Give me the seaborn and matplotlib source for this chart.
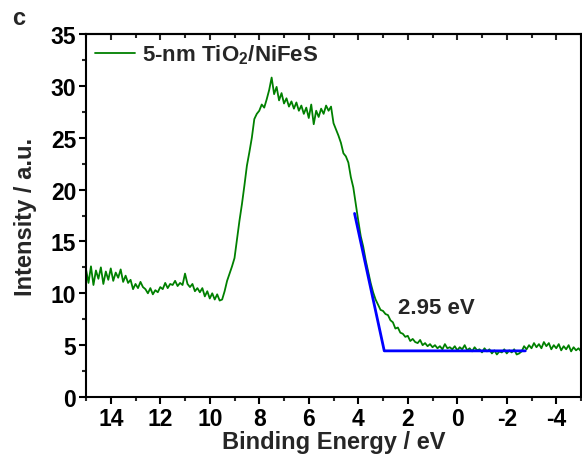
import numpy as np
import pandas as pd
import matplotlib
matplotlib.use("Agg")
import matplotlib.pyplot as plt
from matplotlib.ticker import MultipleLocator
import seaborn as sns

# Binding energy grid (eV) and measured intensity (a.u.)
energy = [
    15.0, 14.9, 14.8, 14.7, 14.6, 14.5, 14.4, 14.3, 14.2, 14.1,
    14.0, 13.9, 13.8, 13.7, 13.6, 13.5, 13.4, 13.3, 13.2, 13.1,
    13.0, 12.9, 12.8, 12.7, 12.6, 12.5, 12.4, 12.3, 12.2, 12.1,
    12.0, 11.9, 11.8, 11.7, 11.6, 11.5, 11.4, 11.3, 11.2, 11.1,
    11.0, 10.9, 10.8, 10.7, 10.6, 10.5, 10.4, 10.3, 10.2, 10.1,
    10.0, 9.9, 9.8, 9.7, 9.6, 9.5, 9.4, 9.3, 9.2, 9.1,
    9.0, 8.9, 8.8, 8.7, 8.6, 8.5, 8.4, 8.3, 8.2, 8.1,
    8.0, 7.9, 7.8, 7.7, 7.6, 7.5, 7.4, 7.3, 7.2, 7.1,
    7.0, 6.9, 6.8, 6.7, 6.6, 6.5, 6.4, 6.3, 6.2, 6.1,
    6.0, 5.9, 5.8, 5.7, 5.6, 5.5, 5.4, 5.3, 5.2, 5.1,
    5.0, 4.9, 4.8, 4.7, 4.6, 4.5, 4.4, 4.3, 4.2, 4.1,
    4.0, 3.9, 3.8, 3.7, 3.6, 3.5, 3.4, 3.3, 3.2, 3.1,
    3.0, 2.9, 2.8, 2.7, 2.6, 2.5, 2.4, 2.3, 2.2, 2.1,
    2.0, 1.9, 1.8, 1.7, 1.6, 1.5, 1.4, 1.3, 1.2, 1.1,
    1.0, 0.9, 0.8, 0.7, 0.6, 0.5, 0.4, 0.3, 0.2, 0.1,
    0.0, -0.1, -0.2, -0.3, -0.4, -0.5, -0.6, -0.7, -0.8, -0.9,
    -1.0, -1.1, -1.2, -1.3, -1.4, -1.5, -1.6, -1.7, -1.8, -1.9,
    -2.0, -2.1, -2.2, -2.3, -2.4, -2.5, -2.6, -2.7, -2.8, -2.9,
    -3.0, -3.1, -3.2, -3.3, -3.4, -3.5, -3.6, -3.7, -3.8, -3.9,
    -4.0, -4.1, -4.2, -4.3, -4.4, -4.5, -4.6, -4.7, -4.8, -4.9,
    -5.0,
]
intensity = [
    12.3, 11.0, 12.6, 10.8, 12.2, 11.4, 12.5, 10.9, 12.1, 11.3,
    12.4, 11.2, 12.0, 11.5, 12.3, 11.1, 11.7, 11.0, 11.3, 10.4,
    10.9, 10.5, 11.1, 10.6, 10.4, 10.0, 10.5, 9.9, 10.3, 10.1,
    10.6, 10.4, 11.0, 10.5, 10.9, 10.8, 11.2, 10.7, 11.0, 10.8,
    11.9, 10.9, 10.6, 10.9, 10.2, 10.5, 10.1, 10.5, 9.7, 10.2,
    9.5, 10.0, 9.4, 9.9, 9.3, 9.4, 10.2, 11.2, 11.9, 12.6,
    13.4, 15.2, 17.0, 18.6, 20.4, 22.3, 23.6, 25.0, 26.8, 27.3,
    27.6, 28.2, 27.9, 28.7, 29.6, 30.8, 29.2, 29.9, 28.6, 29.3,
    28.3, 28.8, 28.0, 28.5, 27.8, 28.4, 27.6, 28.1, 27.3, 27.9,
    26.9, 28.2, 26.3, 27.6, 27.0, 27.8, 27.3, 28.1, 27.6, 28.0,
    26.4, 25.8, 25.2, 24.5, 23.5, 23.2, 22.6, 21.2, 20.2, 18.6,
    17.0, 15.5, 14.5, 13.2, 12.1, 11.0, 10.1, 9.4, 8.9, 8.4,
    8.3, 8.0, 7.9, 7.4, 7.2, 6.6, 6.7, 6.2, 6.1, 5.8,
    5.9, 5.4, 5.6, 5.3, 5.2, 5.5, 5.0, 5.2, 4.9, 5.1,
    4.8, 5.0, 4.7, 4.9, 4.6, 5.1, 4.7, 4.8, 4.6, 4.9,
    4.5, 4.8, 4.6, 5.0, 4.5, 4.7, 4.4, 4.8, 4.5, 4.6,
    4.3, 4.7, 4.4, 4.6, 4.2, 4.5, 4.1, 4.4, 4.3, 4.6,
    4.2, 4.5, 4.3, 4.6, 4.1, 4.2, 4.4, 4.9, 4.6, 5.0,
    4.7, 5.2, 4.8, 5.1, 4.7, 5.3, 4.9, 5.2, 4.6, 5.0,
    4.7, 5.1, 4.5, 4.9, 4.6, 5.0, 4.4, 4.8, 4.5, 4.7,
    4.4,
]

# Linear extrapolation (band edge) lines
fit_x = [4.15, 2.95, -2.75]
fit_y = [17.7, 4.45, 4.45]

series_label = "5-nm TiO$_2$/NiFeS"
edge_label = "2.95 eV"

sns.set_theme(style="ticks")
plt.rcParams['font.family'] = ['Liberation Sans', 'DejaVu Sans']
plt.rcParams['font.weight'] = 'bold'
plt.rcParams['axes.unicode_minus'] = False
plt.rcParams['mathtext.fontset'] = 'custom'
plt.rcParams['mathtext.rm'] = 'Liberation Sans:bold'
plt.rcParams['mathtext.it'] = 'Liberation Sans:bold'
plt.rcParams['mathtext.bf'] = 'Liberation Sans:bold'

fig = plt.figure(figsize=(5.82, 4.64), dpi=100)
ax = fig.add_axes([0.1478, 0.1422, 0.8505, 0.7824])

df = pd.DataFrame({"energy": energy, "intensity": intensity})
sns.lineplot(data=df, x="energy", y="intensity", ax=ax, color="#008000",
             lw=1.3, label=series_label, sort=False, estimator=None)
sns.lineplot(x=fit_x, y=fit_y, ax=ax, color="#0000ff", lw=2.0, sort=False,
             estimator=None, legend=False)

ax.set_xlim(15, -5)
ax.set_ylim(0, 35)
ax.xaxis.set_major_locator(MultipleLocator(2))
ax.xaxis.set_minor_locator(MultipleLocator(1))
ax.yaxis.set_major_locator(MultipleLocator(5))
ax.yaxis.set_minor_locator(MultipleLocator(2.5))

for s in ax.spines.values():
    s.set_linewidth(1.5)
    s.set_color('black')

ax.tick_params(axis='both', which='major', direction='out', length=5, width=1.5,
               labelsize=16.5, colors='black', pad=2)
ax.tick_params(axis='both', which='minor', direction='out', length=3, width=1.5)
for lab in ax.get_xticklabels() + ax.get_yticklabels():
    lab.set_fontweight('bold')

# inward ticks on the top spine
top = ax.secondary_xaxis('top')
top.xaxis.set_major_locator(MultipleLocator(2))
top.xaxis.set_minor_locator(MultipleLocator(1))
top.tick_params(which='major', direction='in', length=4, width=1.5, labeltop=False)
top.tick_params(which='minor', direction='in', length=3, width=1.5)
top.spines['top'].set_linewidth(1.5)

ax.set_xlabel("Binding Energy / eV", fontsize=17, fontweight='bold', labelpad=0)
ax.set_ylabel("Intensity / a.u.", fontsize=17, fontweight='bold', labelpad=10)

ax.text(2.4, 8.6, edge_label, fontsize=16, fontweight='bold', va='center', ha='left')

leg = ax.legend(loc='upper left', frameon=False, handlelength=1.8,
                handletextpad=0.3, borderaxespad=0.2, borderpad=0.2,
                prop={'weight': 'bold', 'size': 16})

fig.text(0.02, 0.96, "c", fontsize=17, fontweight='bold', va='center', ha='left')

fig.savefig("out.png", dpi=100)
